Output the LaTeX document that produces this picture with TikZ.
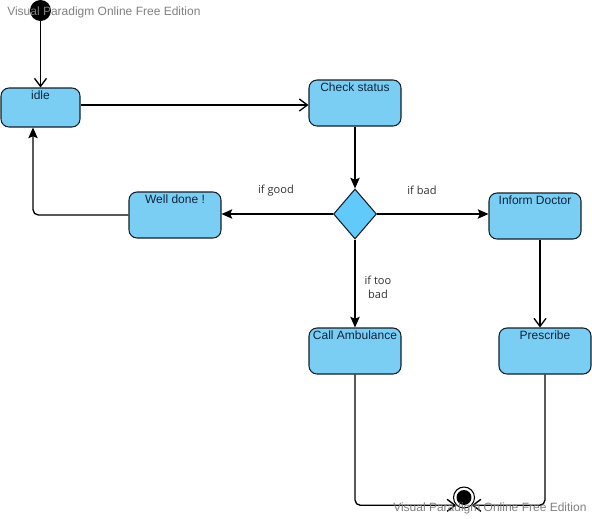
\documentclass[tikz,border=0pt]{standalone}
\usepackage{fontspec}
\setmainfont{Liberation Sans}
\newfontfamily\guardfont{Open Sans}
\usetikzlibrary{shapes.geometric,arrows.meta,calc}

\definecolor{statefill}{RGB}{122,206,244}
\definecolor{decfill}{RGB}{98,202,250}
\definecolor{statetext}{RGB}{14,36,62}
\definecolor{strokecol}{RGB}{20,30,40}
\definecolor{wmgray}{RGB}{128,128,128}
\definecolor{guardcol}{RGB}{50,50,50}

\tikzset{
  state/.style={draw=strokecol, line width=0.8pt, fill=statefill,
    rounded corners=6pt, minimum width=69pt, minimum height=34.5pt, inner sep=0pt},
  statelbl/.style={anchor=north, inner sep=2.4pt, text=statetext,
    font=\fontsize{9}{10}\selectfont},
  decision/.style={diamond, draw=strokecol, line width=0.8pt, fill=decfill,
    minimum width=32.25pt, minimum height=37.5pt, inner sep=0pt, aspect=0.86},
  flow/.style={draw=black, line width=1pt},
  openarrow/.style={flow, -{Straight Barb[length=6pt, width=9pt]}},
  solidarrow/.style={flow, -{Stealth[length=8pt, width=7pt, inset=1.5pt]}},
  guard/.style={text=guardcol, font=\guardfont\fontsize{8.3}{10.5}\selectfont, inner sep=0pt},
  wm/.style={text=wmgray, font=\fontsize{9}{10}\selectfont, inner sep=0pt, anchor=west},
}

\begin{document}
\begin{tikzpicture}[x=0.75pt, y=-0.75pt]
  \useasboundingbox (0,0) rectangle (592,518);

  % pseudo-states
  \node[circle, fill=black, minimum size=15.75pt, inner sep=0pt] (start) at (40.5,10.5) {};
  \node[circle, draw=black, line width=0.8pt, fill=white, minimum size=15.75pt, inner sep=0pt] (stop) at (464,497.5) {};
  \fill[black] (stop.center) circle (5.6pt);

  % states
  \node[state, minimum width=59.25pt, minimum height=29.25pt,
        label={[statelbl]north:idle}] (idle) at (40.5,107.5) {};
  \node[state, label={[statelbl]north:Check status}] (check) at (355,103) {};
  \node[state, label={[statelbl]north:Well done !}] (well) at (175,215) {};
  \node[state, label={[statelbl]north:Inform Doctor}] (inform) at (535,216) {};
  \node[state, label={[statelbl]north:Call Ambulance}] (amb) at (355,351) {};
  \node[state, label={[statelbl]north:Prescribe}] (pres) at (545,351) {};

  % decision
  \node[decision] (dec) at (355,214) {};

  % transitions
  \draw[openarrow] (start) -- (idle);
  \draw[openarrow] (idle.east |- 0,105) -- (check.west |- 0,105);
  \draw[solidarrow] (check) -- (dec);
  \draw[solidarrow] (dec.east) -- (inform.west |- dec.east);
  \draw[solidarrow] (dec.west) -- (well.east |- dec.west);
  \draw[solidarrow, rounded corners=4pt] (well.west) -| ($(idle.south)+(-7.5,0)$);
  \draw[solidarrow] (dec.south) -- (amb.north);
  \draw[openarrow] (540,0 |- inform.south) -- (540,0 |- pres.north);
  \draw[openarrow, rounded corners=4pt] (amb.south) |- (stop.south west);
  \draw[openarrow, rounded corners=4pt] (pres.south) |- (stop.south east);

  % guards
  \node[guard] (gGood) at (276,191) {if good};
  \node[guard] (gBad) at (422,190) {if bad};
  \node[guard, align=center] (gTooBad) at (378,287) {if too\\bad};

  % edition stamps
  \node[wm] (wmTop) at (7,12.5) {Visual Paradigm Online Free Edition};
  \node[wm] (wmBottom) at (393,508.5) {Visual Paradigm Online Free Edition};
\end{tikzpicture}
\end{document}
